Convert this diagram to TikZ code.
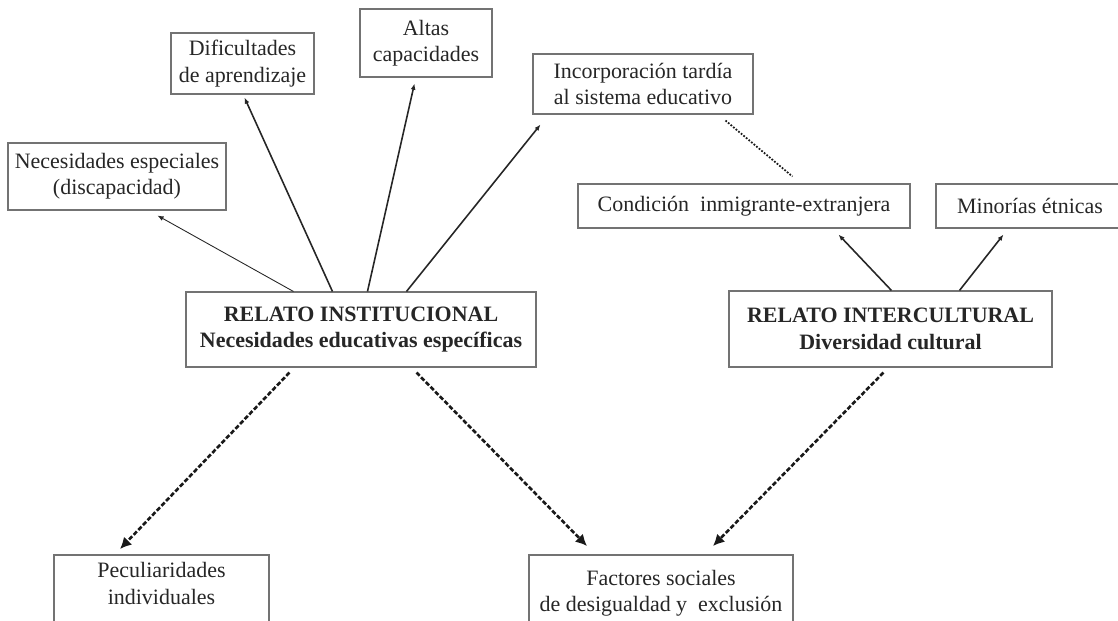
\documentclass[tikz,border=0pt]{standalone}
\usepackage{fontspec}
\setmainfont{Liberation Serif}
\usetikzlibrary{arrows.meta,calc}
\newdimen\pxu \pxu=0.02cm
\tikzset{
  txt/.style={align=center, inner sep=0pt, text=black!85, font=\fontsize{12.5}{15}\selectfont},
  box/.style={txt, draw=black!55, line width=0.6pt},
  bigbox/.style={box, font=\bfseries\fontsize{12.5}{15.3}\selectfont},
  frame/.style={draw=black!55, line width=0.6pt},
  link/.style={draw=black!85, line width=0.9pt, -{Latex[length=3.5pt,width=2.8pt]}},
  thinlink/.style={link, line width=0.5pt},
  dashlink/.style={draw=black!90, line width=1.5pt, dash pattern=on 2.6pt off 1.2pt, -{Latex[length=6.5pt,width=6.5pt]}},
  dotlink/.style={draw=black!90, line width=1pt, dash pattern=on 1pt off 0.9pt}
}
\begin{document}
\begin{tikzpicture}[x=0.02cm, y=-0.02cm]
\useasboundingbox (0,0) rectangle (1118,620);
\clip (0,0) rectangle (1118,620);
\node[box, minimum width=218\pxu, minimum height=67\pxu] (nesp) at (117,176.5) {Necesidades especiales\\(discapacidad)};
\node[box, minimum width=143\pxu, minimum height=61\pxu] (dific) at (242.5,63.5) {Dificultades\\de aprendizaje};
\node[box, minimum width=132\pxu, minimum height=68\pxu] (altas) at (426,43) {Altas\\capacidades};
\node[box, minimum width=220\pxu, minimum height=60\pxu] (incorp) at (643,84) {Incorporación tardía\\al sistema educativo};
\node[box, minimum width=332\pxu, minimum height=44\pxu] (cond) at (744,206) {Condición~ inmigrante-extranjera};
\node[box, minimum width=188\pxu, minimum height=44\pxu] (minor) at (1030,206) {Minorías étnicas};
\node[bigbox, minimum width=350\pxu, minimum height=75\pxu] (inst) at (361,329.5) {RELATO INSTITUCIONAL\\Necesidades educativas específicas};
\node[bigbox, minimum width=323\pxu, minimum height=76\pxu] (inter) at (890.5,329) {RELATO INTERCULTURAL\\Diversidad cultural};
\node[txt] (pecul) at (161.5,583.5) {Peculiaridades\\individuales};
\draw[frame] ($(pecul.center)+(-107.5,-28.5)$) rectangle ++(215,90);
\node[txt] (factores) at (661,593.5) {Factores sociales\\de desigualdad y~ exclusión};
\draw[frame] ($(factores.center)+(-132,-38.5)$) rectangle ++(264,90);

\draw[thinlink] ($(inst.north west)+(108,0)$) -- ($(nesp.south west)+(150,5)$);
\draw[link] ($(inst.north west)+(147,0)$) -- ($(dific.south west)+(74,3)$);
\draw[link] ($(inst.north west)+(182,0)$) -- ($(altas.south west)+(55,6)$);
\draw[link] ($(inst.north west)+(221,0)$) -- ($(incorp.south west)+(8,10)$);
\draw[link] ($(inter.north west)+(163,0)$) -- ($(cond.south west)+(261,6)$);
\draw[link] ($(inter.north west)+(231,0)$) -- ($(minor.south west)+(68,6)$);
\draw[dotlink] ($(incorp.south west)+(193,6)$) -- ($(cond.north west)+(215,-7)$);
\draw[dashlink] ($(inst.south west)+(104,5)$) -- ($(pecul.center)+(-41.5,-34.5)$);
\draw[dashlink] ($(inst.south west)+(231,5)$) -- ($(factores.center)+(-74,-47.5)$);
\draw[dashlink] ($(inter.south west)+(155,5)$) -- ($(factores.center)+(52,-47.5)$);
\end{tikzpicture}
\end{document}
